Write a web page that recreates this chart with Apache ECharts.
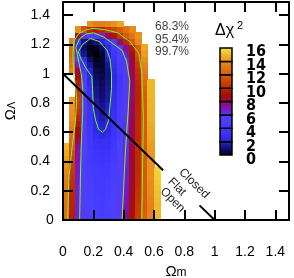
<!DOCTYPE html>
<html><head><meta charset="utf-8">
<script src="https://cdn.jsdelivr.net/npm/echarts@6/dist/echarts.min.js"></script>
<style>html,body{margin:0;padding:0;background:#fff}#c{width:294px;height:278px}</style>
</head><body><div id="c"></div>
<script>
// ---- data ----
const xCenters = [0.02,0.06,0.10,0.14,0.18,0.22,0.26,0.30,0.34,0.38,0.42,0.46,0.50,0.54,0.58,0.62,0.66];
const yCenters = [0.02,0.06,0.10,0.14,0.18,0.22,0.26,0.30,0.34,0.38,0.42,0.46,0.50,0.54,0.58,0.62,0.66,0.70,0.74,0.78,0.82,0.86,0.90,0.94,0.98,1.02,1.06,1.10,1.14,1.18,1.22,1.26,1.30,1.34];
const N = null;
const chi2Rows = [
 [12.6, 9.6, 6.6, 5.6, 5.0, 4.7, 4.6, 4.8, 5.3, 6.0, 7.4, 9.0, 10.8, 12.2, 13.6, 15.0, N],
 [12.7, 9.7, 6.6, 5.6, 5.0, 4.7, 4.6, 4.8, 5.3, 6.0, 7.3, 8.9, 10.7, 12.1, 13.5, 15.0, N],
 [12.8, 9.8, 6.6, 5.5, 4.9, 4.6, 4.5, 4.7, 5.2, 5.9, 7.2, 8.8, 10.6, 12.0, 13.5, 15.0, N],
 [12.9, 9.9, 6.6, 5.5, 4.9, 4.6, 4.5, 4.7, 5.2, 5.9, 7.1, 8.7, 10.5, 12.0, 13.6, 15.1, N],
 [13.0, 10.0, 6.6, 5.4, 4.8, 4.5, 4.4, 4.6, 5.1, 5.8, 7.0, 8.6, 10.4, 11.9, 13.7, 15.2, N],
 [13.1, 10.1, 6.6, 5.4, 4.8, 4.4, 4.3, 4.5, 5.0, 5.7, 6.9, 8.5, 10.3, 11.9, 13.8, 15.3, N],
 [13.3, 10.2, 6.7, 5.3, 4.7, 4.3, 4.2, 4.4, 4.9, 5.6, 6.8, 8.4, 10.2, 11.9, 13.9, 15.4, N],
 [13.5, 10.4, 6.8, 5.3, 4.6, 4.2, 4.1, 4.3, 4.8, 5.6, 6.8, 8.4, 10.2, 11.9, 14.0, 15.5, N],
 [13.7, 10.6, 6.9, 5.2, 4.5, 4.1, 4.0, 4.2, 4.7, 5.5, 6.7, 8.3, 10.1, 11.9, 14.0, 15.6, N],
 [14.0, 10.8, 7.0, 5.2, 4.4, 4.0, 3.8, 4.0, 4.6, 5.4, 6.6, 8.3, 10.1, 11.9, 14.0, N, N],
 [14.3, 11.1, 7.1, 5.2, 4.3, 3.8, 3.6, 3.8, 4.4, 5.3, 6.5, 8.2, 10.1, 11.9, 14.1, N, N],
 [14.6, 11.4, 7.2, 5.2, 4.2, 3.6, 3.4, 3.6, 4.2, 5.2, 6.4, 8.2, 10.1, 11.9, 14.2, N, N],
 [14.9, 11.8, 7.4, 5.3, 4.0, 3.3, 3.1, 3.3, 4.0, 5.0, 6.4, 8.1, 10.1, 11.9, 14.3, N, N],
 [N, 12.3, 7.8, 5.4, 3.9, 3.0, 2.8, 3.0, 3.8, 4.9, 6.3, 8.1, 10.1, 11.9, 14.4, N, N],
 [N, 12.7, 8.3, 5.5, 3.7, 2.7, 2.4, 2.7, 3.6, 4.8, 6.3, 8.0, 10.0, 11.9, 14.5, N, N],
 [N, 13.1, 8.8, 5.6, 3.6, 2.4, 2.0, 2.3, 3.4, 4.7, 6.2, 8.0, 10.0, 11.9, 14.6, N, N],
 [N, 13.5, 9.4, 5.7, 3.4, 2.2, 1.8, 2.2, 3.2, 4.6, 6.2, 8.0, 10.0, 11.9, 14.7, N, N],
 [N, 13.8, 10.0, 5.8, 3.3, 2.0, 1.6, 2.0, 3.0, 4.5, 6.1, 7.9, 10.0, 11.9, 14.8, N, N],
 [N, 14.0, 10.4, 5.8, 3.2, 1.8, 1.4, 1.9, 2.9, 4.4, 6.0, 7.8, 9.9, 11.9, 14.8, N, N],
 [N, 14.2, 10.8, 5.9, 3.1, 1.6, 1.2, 1.7, 2.8, 4.3, 5.9, 7.8, 9.9, 11.9, 14.9, N, N],
 [N, 14.4, 11.0, 6.0, 3.0, 1.5, 1.0, 1.5, 2.7, 4.2, 5.8, 7.7, 9.8, 11.9, 14.9, N, N],
 [N, N, 10.8, 5.9, 2.9, 1.3, 0.9, 1.4, 2.6, 4.1, 5.8, 7.7, 9.8, 12.0, 15.0, N, N],
 [N, N, 10.2, 5.7, 2.8, 1.2, 0.8, 1.3, 2.5, 4.0, 5.7, 7.7, 9.8, 12.2, 15.0, N, N],
 [N, N, 9.5, 5.4, 2.6, 1.0, 0.7, 1.2, 2.4, 3.9, 5.7, 7.7, 9.9, 12.5, 15.0, N, N],
 [N, N, 8.8, 5.0, 2.4, 0.8, 0.6, 1.1, 2.3, 3.9, 5.8, 7.8, 10.1, 12.9, N, N, N],
 [N, 13.5, 8.0, 4.4, 2.0, 0.6, 0.5, 1.1, 2.5, 4.2, 6.0, 7.9, 10.3, 13.3, N, N, N],
 [N, 13.0, 6.8, 3.5, 1.4, 0.4, 0.4, 1.3, 2.8, 4.5, 6.1, 8.1, 10.6, 13.6, N, N, N],
 [N, 12.6, 5.0, 2.4, 0.8, 0.2, 0.4, 1.7, 3.1, 4.8, 6.2, 8.3, 11.0, 14.0, N, N, N],
 [N, 12.3, 3.5, 1.3, 0.3, 0.0, 0.4, 2.0, 3.6, 5.2, 6.7, 8.8, 11.4, 14.3, N, N, N],
 [N, 12.5, 2.5, 0.9, 0.2, 0.2, 0.8, 2.4, 4.2, 5.8, 7.4, 9.6, 11.9, 14.6, N, N, N],
 [N, 13.5, 3.6, 1.2, 0.6, 1.0, 2.2, 3.8, 5.6, 7.6, 10.0, 12.0, 13.8, N, N, N, N],
 [N, N, 9.0, 6.4, 5.4, 5.6, 6.5, 7.8, 9.2, 10.5, 11.8, 13.0, 14.0, N, N, N, N],
 [N, N, 14.0, 11.5, 9.8, 9.6, 10.0, 10.6, 11.3, 12.0, 12.8, 13.8, N, N, N, N, N],
 [N, N, N, N, 14.0, 13.4, 13.4, 13.6, 14.0, 14.5, N, N, N, N, N, N, N]
];
const contour683 = [[0.10,1.15],[0.13,1.20],[0.18,1.24],[0.24,1.22],[0.29,1.16],[0.31,1.10],[0.32,1.00],[0.32,0.90],[0.31,0.78],[0.30,0.68],[0.28,0.62],[0.26,0.60],[0.235,0.62],[0.215,0.68],[0.20,0.76],[0.195,0.90],[0.19,0.98],[0.15,1.04],[0.12,1.10],[0.10,1.15]];
const contour954 = [[0.11,0],[0.115,0.30],[0.12,0.50],[0.13,0.75],[0.13,0.90],[0.12,1.00],[0.10,1.10],[0.085,1.18],[0.11,1.24],[0.15,1.27],[0.20,1.28],[0.27,1.25],[0.35,1.19],[0.39,1.16],[0.42,1.08],[0.44,0.95],[0.43,0.75],[0.41,0.45],[0.39,0]];
const contour997 = [[0.03,0],[0.04,0.30],[0.06,0.50],[0.08,0.65],[0.09,0.80],[0.085,0.90],[0.07,1.00],[0.065,1.12],[0.07,1.22],[0.10,1.27],[0.15,1.30],[0.20,1.31],[0.28,1.30],[0.36,1.28],[0.44,1.22],[0.50,1.14],[0.52,1.00],[0.53,0.70],[0.525,0.40],[0.52,0]];
const flatLineA = [[0,1],[0.66,0.34]];
const flatLineB = [[0.90,0.10],[1,0]];
const colorbarTicks = [0,2,4,6,8,10,12,14,16];
const contourLabels = ['68.3%','95.4%','99.7%'];
const geometryLabels = ['Closed','Flat','Open'];
const colorStops = ['#000000','#12107a','#2a24d8','#3a30f4','#4038ff','#4a40ff','#5838f0','#7c14c0','#9a0848','#a81000','#bc2800','#cc4400','#d85c08','#e07414','#e8901c','#eeb82a','#f4e63c'];

// ---- build ----
const cellHalf = 0.02;
const heatData = [];
chi2Rows.forEach((row, j) => row.forEach((v, i) => { if (v !== null) heatData.push([xCenters[i], yCenters[j], v]); }));

const F = 'Liberation Sans, Arial, sans-serif';
const axisCommon = {
  type: 'value', min: 0, max: 1.49, interval: 0.2, gridIndex: 0, z: 10,
  axisLine: { show: true, onZero: false, lineStyle: { color: '#000', width: 2 } },
  axisTick: { show: true, inside: true, length: 10, lineStyle: { color: '#000', width: 2 } },
  splitLine: { show: false }
};
const contourStyle = { color: '#6cff2a', width: 1 };
function lineSeries(data, style, z) {
  return { type: 'line', xAxisIndex: 0, yAxisIndex: 0, data: data, showSymbol: false, symbol: 'none', silent: true, lineStyle: style, z: z };
}

const chart = echarts.init(document.getElementById('c'), null, { renderer: 'canvas' });
chart.setOption({
  animation: false,
  grid: [
    { left: 63, right: 5, top: 2, bottom: 58, outerBoundsMode: 'none', containLabel: false },
    { left: 220, top: 48, width: 12, height: 107, outerBoundsMode: 'none', containLabel: false },
    { left: 220, top: 52, width: 12, height: 108, outerBoundsMode: 'none', containLabel: false }
  ],
  xAxis: [
    Object.assign({}, axisCommon, {
      position: 'bottom',
      axisLabel: { fontSize: 14, fontFamily: F, color: '#000', margin: 25, showMaxLabel: false },
      name: '{a|Ω}{b|m}', nameLocation: 'middle', nameGap: 43,
      nameTextStyle: { rich: { a: { fontSize: 15, fontFamily: F, color: '#000' }, b: { fontSize: 12, fontFamily: F, color: '#000', padding: [3, 0, 0, 0] } } }
    }),
    Object.assign({}, axisCommon, { position: 'top', axisLabel: { show: false } }),
    { type: 'value', gridIndex: 1, min: 0, max: 1, show: false },
    { type: 'value', gridIndex: 2, min: 0, max: 1, show: false }
  ],
  yAxis: [
    Object.assign({}, axisCommon, {
      position: 'left',
      axisLabel: { fontSize: 14, fontFamily: F, color: '#000', margin: 13, showMaxLabel: false, verticalAlign: 'middle', alignMinLabel: 'center', padding: [6, 0, 0, 0] },
      name: '{a|Ω}{b|Λ}', nameLocation: 'middle', nameGap: 45,
      nameTextStyle: { rich: { a: { fontSize: 15, fontFamily: F, color: '#000' }, b: { fontSize: 11, fontFamily: F, color: '#000', padding: [3, 0, 0, 0] } } }
    }),
    Object.assign({}, axisCommon, { position: 'right', axisLabel: { show: false } }),
    { type: 'value', gridIndex: 1, min: 0, max: 16, show: false },
    {
      type: 'category', gridIndex: 2, data: colorbarTicks.map(String), boundaryGap: false, position: 'right',
      axisLine: { show: false }, axisTick: { show: false }, splitLine: { show: false },
      axisLabel: { interval: 0, hideOverlap: false, fontSize: 16, fontWeight: 'bold', fontFamily: 'Liberation Sans Narrow, DejaVu Sans Condensed, sans-serif', color: '#000', margin: 14 }
    }
  ],
  visualMap: { type: 'continuous', show: false, min: 0, max: 16, dimension: 2, seriesIndex: 0, inRange: { color: colorStops } },
  series: [
    {
      type: 'custom', xAxisIndex: 0, yAxisIndex: 0, data: heatData, encode: { x: 0, y: 1 }, z: 1, silent: true,
      renderItem: function (params, api) {
        const x = api.value(0), y = api.value(1);
        const a = api.coord([x - cellHalf, y + cellHalf]);
        const b = api.coord([x + cellHalf, y - cellHalf]);
        const x0 = Math.floor(a[0]), y0 = Math.floor(a[1]);
        return { type: 'rect', shape: { x: x0, y: y0, width: Math.ceil(b[0]) - x0, height: Math.ceil(b[1]) - y0 }, style: { fill: api.visual('color') } };
      }
    },
    lineSeries(contour997, contourStyle, 5),
    lineSeries(contour954, contourStyle, 5),
    lineSeries(contour683, contourStyle, 5),
    lineSeries(flatLineA, { color: '#000', width: 2 }, 6),
    lineSeries(flatLineB, { color: '#000', width: 2 }, 6),
    {
      type: 'custom', xAxisIndex: 2, yAxisIndex: 2, silent: true, z: 3,
      data: colorbarTicks.slice(0, -1).map(v => [0, v]), encode: { x: 0, y: 1 },
      renderItem: function (params, api) {
        const v = api.value(1);
        const a = api.coord([0, v + 2]);
        const b = api.coord([1, v]);
        return {
          type: 'rect', shape: { x: a[0], y: a[1], width: b[0] - a[0], height: b[1] - a[1] },
          style: {
            fill: new echarts.graphic.LinearGradient(0, 0, 0, 1, [
              { offset: 0, color: colorStops[v + 2] }, { offset: 0.5, color: colorStops[v + 1] }, { offset: 1, color: colorStops[v] }
            ]),
            stroke: '#000', lineWidth: 1.5
          }
        };
      }
    },
    { type: 'line', xAxisIndex: 3, yAxisIndex: 3, data: [], silent: true }
  ],
  graphic: [
    { type: 'text', left: 215, top: 23, style: { text: 'Δχ', font: '16px ' + F, fill: '#000' } },
    { type: 'text', left: 237, top: 20, style: { text: '2', font: '11px ' + F, fill: '#000' } },
    { type: 'text', left: 155, top: 21, style: { text: contourLabels[0], font: '12px ' + F, fill: '#444' } },
    { type: 'text', left: 155, top: 33.5, style: { text: contourLabels[1], font: '12px ' + F, fill: '#444' } },
    { type: 'text', left: 155, top: 46, style: { text: contourLabels[2], font: '12px ' + F, fill: '#444' } },
    { type: 'text', x: 194, y: 183.5, rotation: -Math.PI / 4, style: { text: geometryLabels[0], font: '12px ' + F, fill: '#222', align: 'center', verticalAlign: 'middle' } },
    { type: 'text', x: 177, y: 187, rotation: -Math.PI / 4, style: { text: geometryLabels[1], font: '12px ' + F, fill: '#222', align: 'center', verticalAlign: 'middle' } },
    { type: 'text', x: 172.5, y: 200, rotation: -Math.PI / 4, style: { text: geometryLabels[2], font: '12px ' + F, fill: '#222', align: 'center', verticalAlign: 'middle' } }
  ]
});
</script></body></html>
